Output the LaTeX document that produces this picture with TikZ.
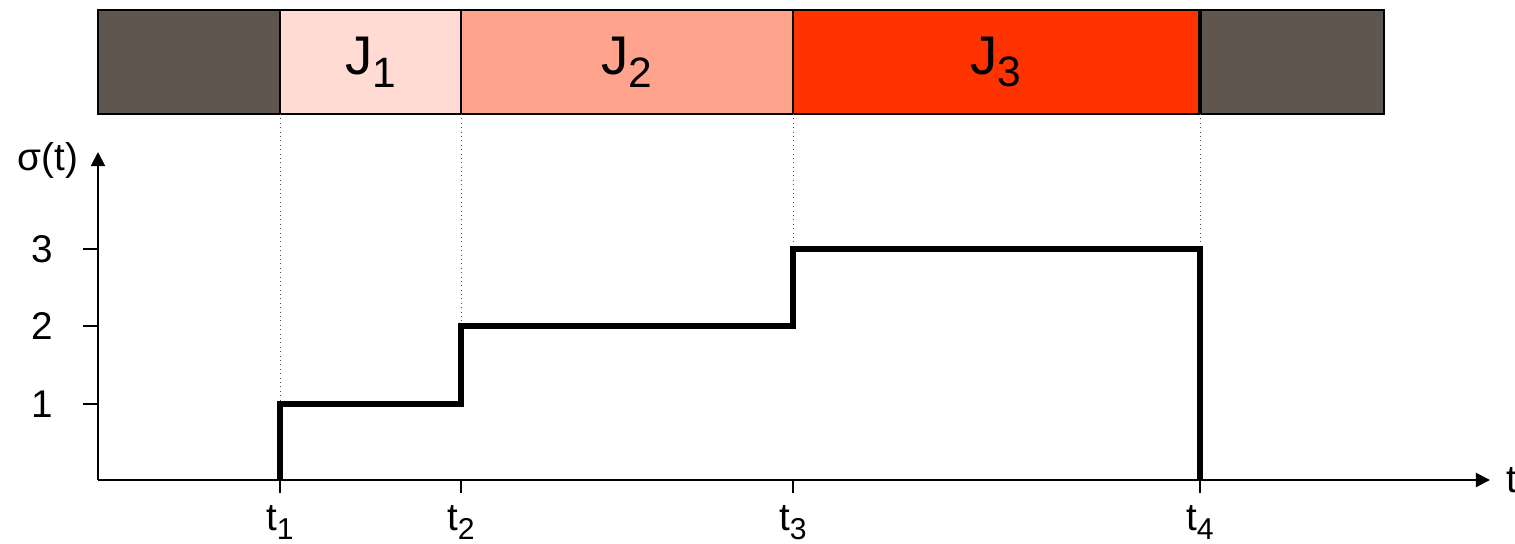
\documentclass[tikz,border=0pt]{standalone}
\usepackage{fontspec}
\setmainfont{Liberation Sans}
\usetikzlibrary{arrows.meta}
\definecolor{idle}{HTML}{5F574F}
\definecolor{jobA}{HTML}{FFDBD3}
\definecolor{jobB}{HTML}{FFA38D}
\definecolor{jobC}{HTML}{FF3300}
\newcommand\lowsub[1]{\raisebox{-0.45ex}{\scalebox{0.78}{#1}}}
\tikzset{
  slot/.style={draw=black, line width=1pt, anchor=north west, inner sep=0pt, outer sep=0pt,
               minimum height=2.08cm, font=\fontsize{31}{31}\selectfont},
  axis/.style={line width=1.1pt, -{Triangle[length=8pt,width=8pt]}},
  tickmark/.style={line width=1.1pt},
  guide/.style={dotted, line width=0.5pt, black!70},
  stepline/.style={line width=3.6pt, line join=miter},
  lbl/.style={font=\fontsize{22}{22}\selectfont, inner sep=0pt}
}
\begin{document}
\begin{tikzpicture}[x=0.02cm, y=-0.02cm]
\useasboundingbox (0,0) rectangle (1515,544);
\clip (0,0) rectangle (1515,544);

% schedule bar
\node[slot, fill=idle, minimum width=3.64cm] (idleL) at (98,10) {};
\node[slot, fill=jobA, minimum width=3.62cm] (j1) at (280,10) {J\lowsub{1}};
\node[slot, fill=jobB, minimum width=6.64cm] (j2) at (461,10) {J\lowsub{2}};
\node[slot, fill=jobC, minimum width=8.12cm] (j3) at (793,10) {J\lowsub{3}};
\node[slot, fill=idle, minimum width=3.66cm] (idleR) at (1201,10) {};

% axes
\coordinate (O) at (98,480);
\coordinate (ytop) at (98,152);
\coordinate (xend) at (1490,480);
\draw[axis] (O) -- (ytop);
\draw[axis] (O) -- (xend);
\node[lbl, anchor=west] (tlbl) at (1506,480) {t};
\node[lbl] (sig) at (48,160) {σ(t)};

% y ticks
\foreach \v/\yy in {1/404, 2/326, 3/249} {
  \coordinate (yt\v) at (98,\yy);
  \coordinate (ys\v) at (83,\yy);
  \draw[tickmark] (ys\v) -- (yt\v);
  \node[lbl] (yl\v) at (42,\yy) {\v};
}

% time instants
\foreach \i/\xx in {1/280, 2/461, 3/793, 4/1200} {
  \coordinate (t\i) at (\xx,480);
  \coordinate (tb\i) at (\xx,493);
  \coordinate (tt\i) at (\xx,114);
  \draw[tickmark] (t\i) -- (tb\i);
  \node[lbl, anchor=north] (tl\i) at (\xx,505) {t\lowsub{\i}};
}

% guide lines from the bar down to the curve
\coordinate (g1) at (280,404);
\coordinate (g2) at (461,326);
\coordinate (g3) at (793,249);
\coordinate (g4) at (1200,249);
\draw[guide] (tt1) -- (g1);
\draw[guide] (tt2) -- (461,404);
\draw[guide] (tt3) -- (793,326);
\draw[guide] (tt4) -- (g4);

% sigma(t) step function
\draw[stepline] (t1) -- (g1) -- (461,404) -- (g2) -- (793,326) -- (g3) -- (g4) -- (t4);
\end{tikzpicture}
\end{document}
